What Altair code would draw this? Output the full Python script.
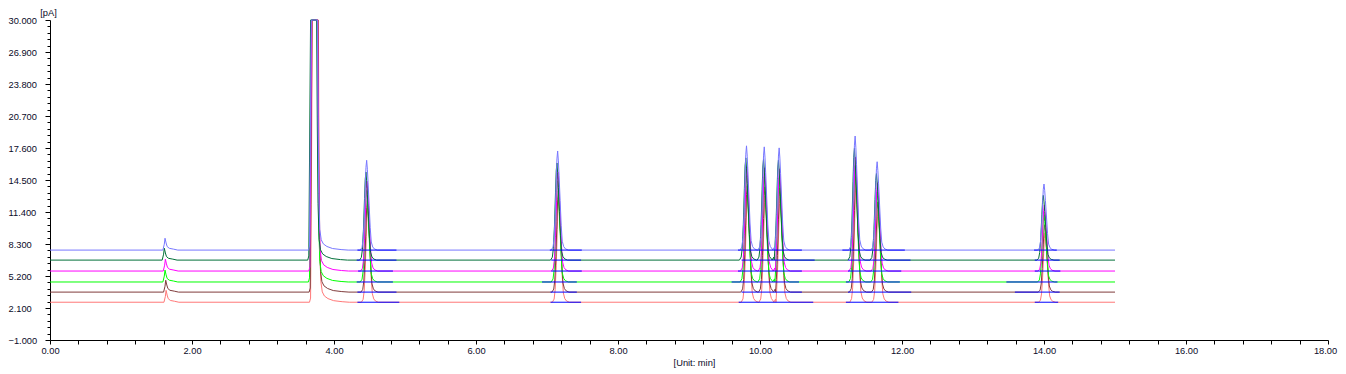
import altair as alt
import pandas as pd

# ---------------- data ----------------
TRACES = ["t1", "t2", "t3", "t4", "t5", "t6"]
COLORS = ["#7878FF", "#007038", "#FF00FF", "#00FF00", "#803C3C", "#FF7878"]
BASELINES = [7.71, 6.74, 5.68, 4.62, 3.64, 2.66]
SHIFTS = [0.0, -0.01, 0.005, 0.0, 0.01, 0.015]
AMP_FACTOR = [1.00, 0.98, 1.00, 1.02, 1.02, 1.05]
RUN_END = 15.0

# main analyte peaks (retention time, apex height above baseline)
PEAK_TIMES = [4.46, 7.15, 9.81, 10.06, 10.27, 11.34, 11.65, 14.00]
PEAK_AMPS = [8.7, 9.6, 10.1, 10.0, 9.9, 11.05, 8.56, 6.4]
PROFILE_DT = [-0.09, -0.065, -0.05, -0.035, -0.02, -0.01, 0.0, 0.01, 0.02, 0.035, 0.05, 0.065, 0.085, 0.11, 0.15]
PROFILE_FRAC = [0.0, 0.03, 0.12, 0.35, 0.7, 0.92, 1.0, 0.9, 0.75, 0.5, 0.25, 0.09, 0.035, 0.012, 0.0]

# small early peak
SMALL_T = 1.62
SMALL_AMP = 1.15
SMALL_DT = [-0.03, -0.01, 0.0, 0.015, 0.03, 0.06, 0.12, 0.18]
SMALL_FRAC = [0.0, 0.5, 1.0, 0.6, 0.3, 0.15, 0.08, 0.0]

# solvent peak (None = saturated at the top of the scale)
SOLVENT_T = 3.70
SOLVENT_TOP = 30.0
SOLVENT_DT = [-0.06, -0.045, -0.035, -0.02, 0.065, 0.075, 0.085, 0.10, 0.12, 0.15, 0.20, 0.28, 0.40, 0.50]
SOLVENT_REL = [0.0, 0.4, 9.5, None, None, 12.9, 5.5, 2.0, 1.0, 0.6, 0.35, 0.15, 0.05, 0.0]

# integration baselines (start / end per trace) for each peak group
BL_STARTS = [
    [4.33, 4.32, 4.34, 4.32, 4.33, 4.33],
    [7.04, 7.06, 7.06, 6.93, 7.05, 7.05],
    [9.69, 9.74, 9.69, 9.60, 9.74, 9.70],
    [11.16, 11.24, 11.24, 11.21, 11.24, 11.21],
    [13.86, 13.87, 13.87, 13.47, 13.59, 13.87],
]
BL_ENDS = [
    [4.88, 4.88, 4.83, 4.83, 4.88, 4.92],
    [7.49, 7.48, 7.49, 7.42, 7.42, 7.48],
    [10.59, 10.77, 10.59, 10.55, 10.59, 10.75],
    [12.04, 12.12, 11.99, 11.97, 12.13, 11.95],
    [14.18, 14.22, 14.23, 14.19, 14.22, 14.20],
]

X_TICKS = [round(0.4 * k, 1) for k in range(46)]
Y_TICKS = [round(-1 + 0.62 * k, 2) for k in range(51)]

FONT = "Liberation Sans"
TXT = "#0a0a28"

# ---------------- build tables ----------------
def trace_points(i):
    base = BASELINES[i]
    sh = SHIFTS[i]
    pts = [(0.0, base)]
    for dt, f in zip(SMALL_DT, SMALL_FRAC):
        pts.append((SMALL_T + sh + dt, base + SMALL_AMP * f))
    for dt, rel in zip(SOLVENT_DT, SOLVENT_REL):
        v = SOLVENT_TOP if rel is None else min(SOLVENT_TOP, base + rel)
        pts.append((SOLVENT_T + sh + dt, v))
    for tp, amp in zip(PEAK_TIMES, PEAK_AMPS):
        for dt, f in zip(PROFILE_DT, PROFILE_FRAC):
            pts.append((tp + sh + dt, base + amp * AMP_FACTOR[i] * f))
    pts.append((RUN_END, base))
    pts.sort(key=lambda p: p[0])
    return pd.DataFrame({"t": [p[0] for p in pts], "v": [p[1] for p in pts],
                         "k": list(range(len(pts)))})

bl_rows = []
for g in range(len(BL_STARTS)):
    for i in range(len(TRACES)):
        bl_rows.append({"t": BL_STARTS[g][i], "e": BL_ENDS[g][i], "v": BASELINES[i]})
bl_df = pd.DataFrame(bl_rows)

major_y = "abs((datum.value + 1) / 3.1 - round((datum.value + 1) / 3.1)) < 0.01"
major_x = "abs(datum.value / 2 - round(datum.value / 2)) < 0.01"

X_SCALE = alt.Scale(domain=[0, 18], nice=False, zero=False)
Y_SCALE = alt.Scale(domain=[-1, 30], nice=False, zero=False)

X_AXIS = alt.Axis(
    values=X_TICKS,
    labelExpr=f"{major_x} ? format(datum.value, '.2f') : ''",
    labelOffset={"condition": {"test": "datum.value > 17.9", "value": -3}, "value": 0},
    title="[Unit: min]",
    tickSize=4,
    labelPadding=2,
    labelOverlap=False,
    labelFlush=False,
    labelBound=False,
    grid=False,
    titleX=644,
    titleY=22,
    titleBaseline="middle",
    titleAlign="center",
)
Y_AXIS = alt.Axis(
    values=Y_TICKS,
    labelExpr=f"{major_y} ? format(datum.value, '.3f') : ''",
    title="[pA]",
    tickSize={"condition": {"test": major_y, "value": 5}, "value": 3},
    labelAlign="left",
    labelBaseline="middle",
    labelPadding=37,
    labelOverlap=False,
    labelFlush=False,
    labelBound=False,
    grid=False,
    titleAngle=0,
    titleX=-2,
    titleY=-12,
    titleAlign="center",
    titleBaseline="top",
)

x_enc = alt.X("t:Q", scale=X_SCALE, axis=X_AXIS)
y_enc = alt.Y("v:Q", scale=Y_SCALE, axis=Y_AXIS)

layers = []
# light blue trace is drawn last (on top)
for i in reversed(range(len(TRACES))):
    layers.append(
        alt.Chart(trace_points(i))
        .mark_line(color=COLORS[i], strokeWidth=1, interpolate="linear")
        .encode(x=x_enc, y=y_enc, order="k:Q")
    )
layers.append(
    alt.Chart(bl_df)
    .mark_rule(color="#0000FF", strokeWidth=1)
    .encode(x=x_enc, x2="e:Q", y=y_enc)
)

chart = (
    alt.layer(*layers)
    .properties(width=1278, height=320, autosize="none",
                padding={"left": 42, "top": 12, "right": 10, "bottom": 30})
    .configure_view(strokeOpacity=0)
    .configure_axis(
        labelFont=FONT, titleFont=FONT, labelFontSize=9.3, titleFontSize=9.3,
        labelColor=TXT, titleColor=TXT, titleFontWeight="normal",
        domainColor="#000000", tickColor="#000000", domainWidth=1, tickWidth=1,
        labelOverlap=False,
    )
)

chart.save("out.html", embed_options={"renderer": "svg", "actions": False})
